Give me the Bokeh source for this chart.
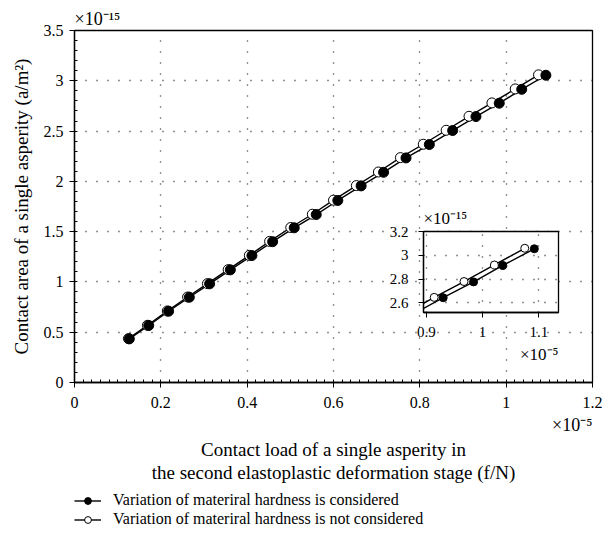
from bokeh.embed import file_html
from bokeh.layouts import column
from bokeh.models import (FixedTicker, Legend, LegendItem, NumeralTickFormatter, Range1d, Title)
from bokeh.plotting import figure
from bokeh.resources import INLINE

FONT = "Liberation Serif"

# Contact load (x 1e-5 N) and contact area (x 1e-15 m^2) of a single asperity
load_hardness_varies = [0.127, 0.172, 0.218, 0.266, 0.313, 0.361, 0.411, 0.459, 0.509, 0.560,
                        0.610, 0.664, 0.716, 0.768, 0.822, 0.876, 0.930, 0.984, 1.036, 1.092]
area_hardness_varies = [0.434, 0.567, 0.709, 0.848, 0.981, 1.120, 1.262, 1.400, 1.538, 1.670,
                        1.810, 1.955, 2.090, 2.233, 2.366, 2.505, 2.644, 2.777, 2.915, 3.055]

load_hardness_fixed = [0.125, 0.169, 0.215, 0.262, 0.308, 0.356, 0.405, 0.452, 0.501, 0.551,
                       0.600, 0.653, 0.704, 0.755, 0.808, 0.861, 0.914, 0.967, 1.021, 1.075]
area_hardness_fixed = [0.436, 0.569, 0.711, 0.850, 0.983, 1.122, 1.264, 1.403, 1.541, 1.673,
                       1.813, 1.958, 2.093, 2.236, 2.369, 2.508, 2.647, 2.780, 2.919, 3.059]

series_labels = ["Variation of materiral hardness is considered",
                 "Variation of materiral hardness is not considered"]

x_ticks = [0, 0.2, 0.4, 0.6, 0.8, 1.0, 1.2]
y_ticks = [0, 0.5, 1.0, 1.5, 2.0, 2.5, 3.0, 3.5]
x_minor = [round(i * 0.02, 2) for i in range(61)]
y_minor = [round(i * 0.1, 1) for i in range(36)]

inset_x_ticks = [0.9, 1.0, 1.1]
inset_y_ticks = [2.6, 2.8, 3.0, 3.2]

x_title_lines = ["Contact load of a single asperity in",
                 "the second elastoplastic deformation stage (f/N)"]
y_title = "Contact area of a single asperity (a/m\u00b2)"
x_scale_note = "\u00d710\u207b\u2075"
y_scale_note = "\u00d710\u207b\u00b9\u2075"


def draw_series(fig, size, line_width):
    # open markers first so the filled ones sit on top where they overlap
    l2 = fig.line(load_hardness_fixed, area_hardness_fixed, line_color="black",
                  line_width=line_width)
    l1 = fig.line(load_hardness_varies, area_hardness_varies, line_color="black",
                  line_width=line_width)
    s2 = fig.scatter(load_hardness_fixed, area_hardness_fixed, marker="circle", size=size,
                     fill_color="white", line_color="black", line_width=1)
    s1 = fig.scatter(load_hardness_varies, area_hardness_varies, marker="circle", size=size,
                     fill_color="black", line_color="black", line_width=1)
    return (l1, s1), (l2, s2)


def style_axis(ax, size):
    ax.axis_line_color = "black"
    ax.axis_line_width = 1.3
    ax.major_tick_line_color = "black"
    ax.minor_tick_line_color = "black"
    ax.major_label_text_font = FONT
    ax.major_label_text_font_size = size
    ax.major_label_text_color = "black"
    ax.formatter = NumeralTickFormatter(format="0.[0]")
    ax.major_tick_in = 0
    ax.major_tick_out = 5


def note(text, size, align, standoff):
    return Title(text=text, align=align, text_font=FONT, text_font_size=size,
                 text_font_style="normal", text_color="black", standoff=standoff)


# ---------------- main chart ----------------
p = figure(width=603, height=490, x_range=Range1d(0, 1.2), y_range=Range1d(0, 3.5),
           output_backend="svg", toolbar_location=None,
           min_border_left=74, min_border_right=11, min_border_top=30, min_border_bottom=108,
           background_fill_color="white", border_fill_color="white",
           outline_line_color="black", outline_line_width=1.3)

p.xaxis.ticker = FixedTicker(ticks=x_ticks, minor_ticks=x_minor)
p.yaxis.ticker = FixedTicker(ticks=y_ticks, minor_ticks=y_minor)
for ax in (p.xaxis[0], p.yaxis[0]):
    style_axis(ax, "16px")
    ax.minor_tick_in = 3
    ax.minor_tick_out = 0
p.xaxis.major_label_standoff = 9
p.yaxis.major_label_standoff = 6

p.yaxis.axis_label = y_title
p.yaxis.axis_label_text_font = FONT
p.yaxis.axis_label_text_font_size = "19px"
p.yaxis.axis_label_text_font_style = "normal"
p.yaxis.axis_label_text_color = "black"
p.yaxis.axis_label_standoff = 9

p.add_layout(note(y_scale_note, "18px", "left", 4), "above")

p.grid.grid_line_color = "#222222"
p.grid.grid_line_dash = "1 10"
p.grid.grid_line_width = 1.3

draw_series(p, size=10, line_width=1.4)

p.add_layout(note(x_scale_note, "18px", "right", 4), "below")
for line in x_title_lines:
    p.add_layout(note(line, "19px", "center", 0), "below")

# ---------------- legend strip ----------------
# same series, drawn outside this strip's visible range so only the legend keys show
key = figure(width=603, height=43, x_range=Range1d(0, 1.2), y_range=Range1d(10, 11),
             output_backend="svg", toolbar_location=None,
             x_axis_location=None, y_axis_location=None,
             min_border_left=74, min_border_right=11, min_border_top=0, min_border_bottom=0,
             background_fill_color=None, border_fill_color=None, outline_line_color=None)
key.grid.visible = False
key_hard, key_fixed = draw_series(key, size=9, line_width=1.4)
legend = Legend(items=[LegendItem(label=series_labels[0], renderers=list(key_hard)),
                       LegendItem(label=series_labels[1], renderers=list(key_fixed))],
                location=(0, 5), orientation="vertical", padding=0, margin=0, spacing=1,
                glyph_width=27, glyph_height=17, label_height=17, label_standoff=12,
                label_text_font=FONT, label_text_font_size="16px", label_text_color="black",
                border_line_color=None, background_fill_alpha=0)
key.add_layout(legend)

# ---------------- inset ----------------
inset = figure(width=220, height=165, x_range=Range1d(0.895, 1.135),
               y_range=Range1d(2.52, 3.2),
               output_backend="svg", toolbar_location=None,
               min_border_left=74, min_border_right=11, min_border_top=28, min_border_bottom=50,
               background_fill_color="white", border_fill_color=None,
               outline_line_color="black", outline_line_width=1.3)
inset.margin = (-331, 0, 0, 349)

inset.xaxis.ticker = FixedTicker(ticks=inset_x_ticks)
inset.yaxis.ticker = FixedTicker(ticks=inset_y_ticks)
for ax in (inset.xaxis[0], inset.yaxis[0]):
    style_axis(ax, "15px")
    ax.minor_tick_line_color = None
inset.xaxis.major_label_standoff = 9
inset.yaxis.major_label_standoff = 10

inset.grid.grid_line_color = "#222222"
inset.grid.grid_line_dash = "1 10"
inset.grid.grid_line_width = 1.3

draw_series(inset, size=8, line_width=1.4)

inset.add_layout(note(y_scale_note, "17px", "left", 8), "above")
inset.add_layout(note(x_scale_note, "17px", "right", 7), "below")

page = column(p, key, inset)
open("out.html", "w").write(file_html(page, INLINE))
